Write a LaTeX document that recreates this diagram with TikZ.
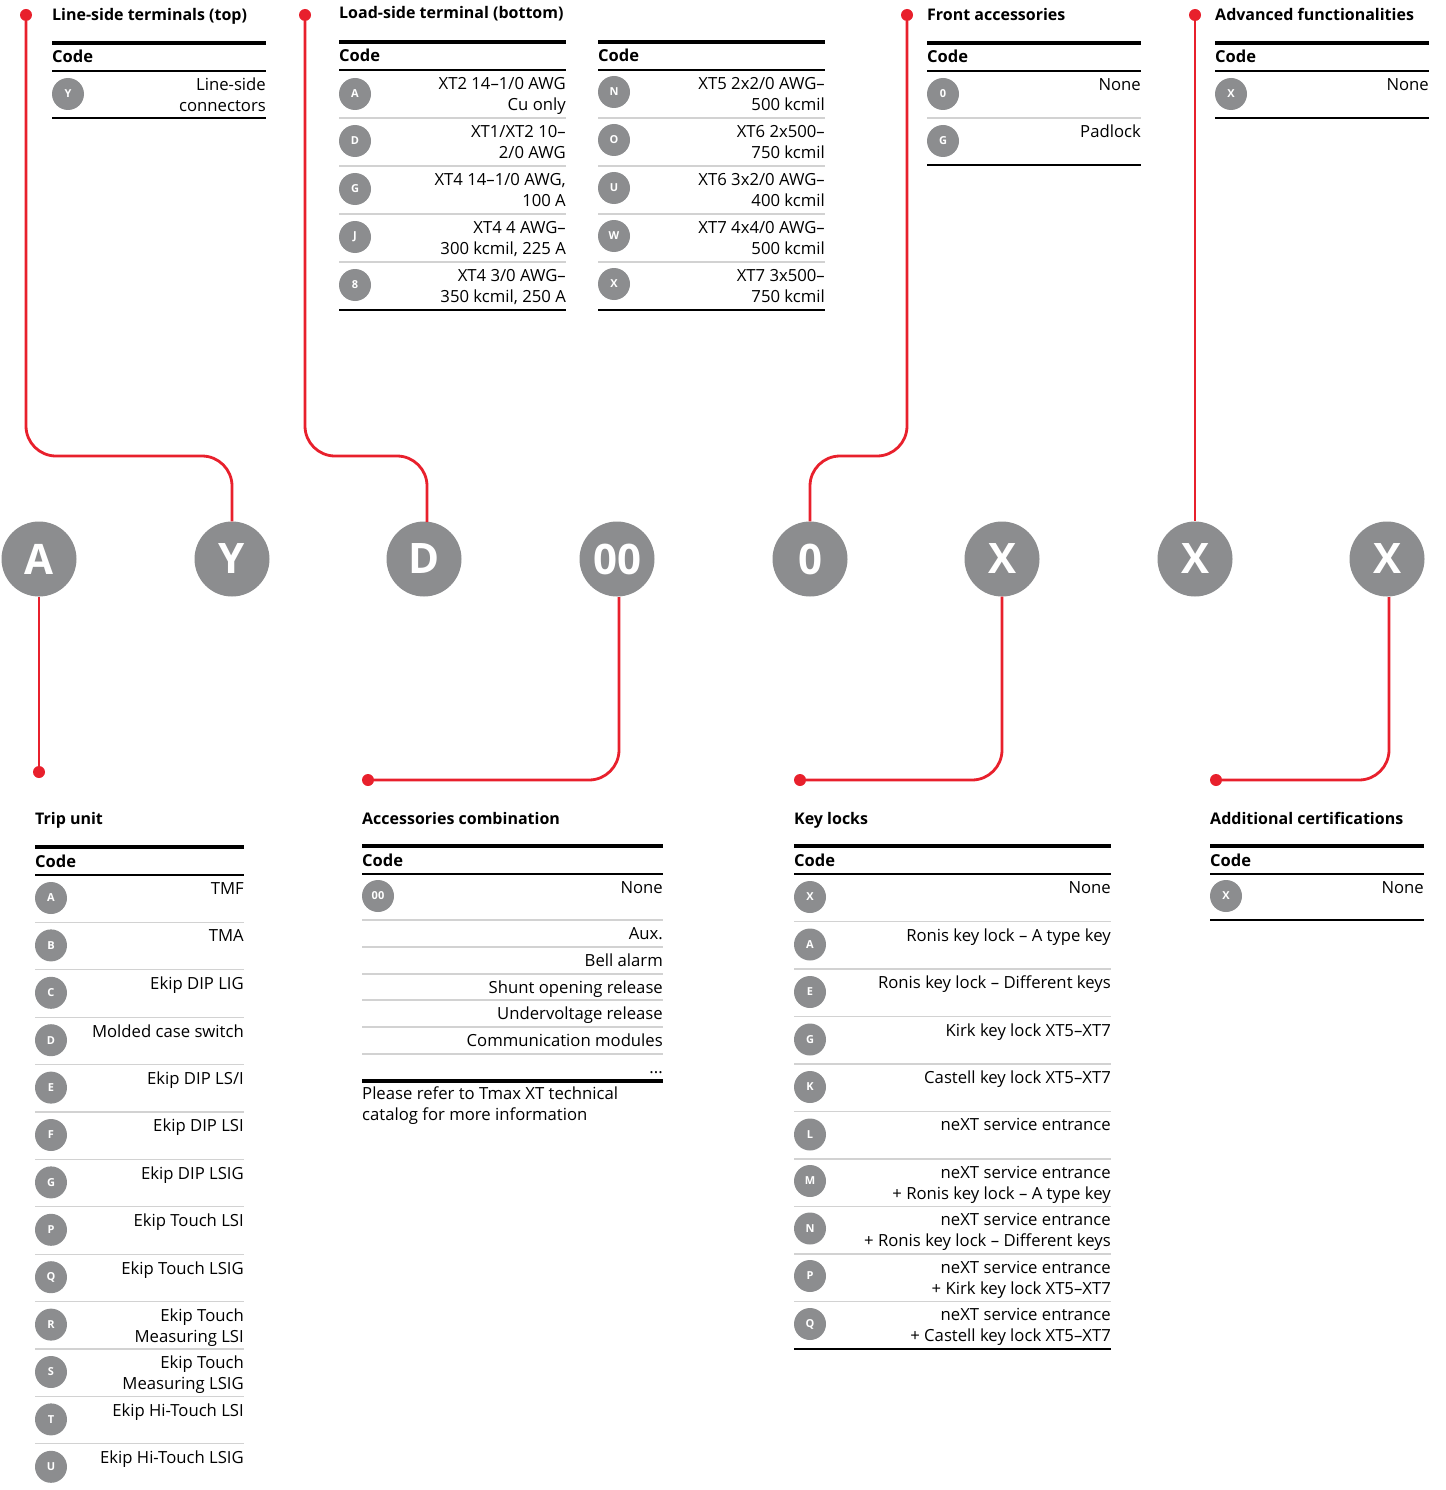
\documentclass[tikz,border=0pt]{standalone}
\usepackage{fontspec}
\setmainfont{Open Sans}
\usetikzlibrary{positioning}
\definecolor{abbred}{HTML}{E8202C}
\definecolor{abbgrey}{HTML}{8C8D8F}
\definecolor{rulegrey}{HTML}{D2D2D2}
\newcommand{\celltxt}{\fontsize{16.7}{21}\selectfont}
\begin{document}
\begin{tikzpicture}[x=1pt,y=-1pt]
    \tikzstyle{every node}=[inner sep=0pt]
    \tikzstyle{bigball}=[circle,fill=abbgrey,minimum size=75pt,text=white,font=\bfseries\fontsize{42}{42}\selectfont]
    \tikzstyle{ball}=[circle,fill=abbgrey,minimum size=32pt,text=white,font=\bfseries\fontsize{11}{11}\selectfont]
    \tikzstyle{dot}=[circle,fill=abbred,minimum size=12pt]
    \tikzstyle{wire}=[draw=abbred,line width=2.8pt,rounded corners=30pt]
    \tikzstyle{title}=[anchor=base west,font=\bfseries\fontsize{16}{18}\selectfont]
    \tikzstyle{code}=[anchor=base west,font=\bfseries\fontsize{16.5}{18}\selectfont]
    \tikzstyle{cell}=[anchor=north east,align=right,font=\celltxt]
    \tikzstyle{toprule}=[line width=4.5pt]
    \tikzstyle{midrule}=[line width=2.4pt]
    \tikzstyle{sep}=[draw=rulegrey,line width=1.3pt]
    \useasboundingbox (0,0) rectangle (1445,1490);

    % code letters
    \node[bigball] (cA) at (39,559) {A};
    \node[bigball] (cY) at (232,559) {Y};
    \node[bigball] (cD) at (424,559) {D};
    \node[bigball] (c00) at (617,559) {00};
    \node[bigball] (cO) at (810,559) {0};
    \node[bigball] (cX1) at (1002,559) {X};
    \node[bigball] (cX2) at (1195,559) {X};
    \node[bigball] (cX3) at (1387,559) {X};

    % red leaders
    \node[dot] (dLine) at (26,15) {};
    \node[dot] (dLoad) at (305,15) {};
    \node[dot] (dFront) at (907,15) {};
    \node[dot] (dAdv) at (1195,15) {};
    \node[dot] (dTrip) at (39,772) {};
    \node[dot] (dAcc) at (368,780) {};
    \node[dot] (dKey) at (800,780) {};
    \node[dot] (dCert) at (1216,780) {};
    \draw[wire] (dLine) -- (dLine |- 0,456) -- (cY.north |- 0,456) -- (cY.north);
    \draw[wire] (dLoad) -- (dLoad |- 0,456) -- (427,456) -- (427,522);
    \draw[wire] (dFront) -- (dFront |- 0,456) -- (cO.north |- 0,456) -- (cO.north);
    \draw[wire] (dAdv) -- (cX2.north);
    \draw[wire] (cA.south) -- (dTrip);
    \draw[wire] (619,597) -- (619,780) -- (dAcc);
    \draw[wire] (cX1.south) -- (cX1.south |- 0,780) -- (dKey);
    \draw[wire] (1389,597) -- (1389,780) -- (dCert);

    % line-side terminals
    \node[title] (lineTitle) at (52,21) {Line-side terminals (top)};
    \draw[toprule] (52,43) -- (266,43);
    \node[code] (lineCode) at (52,63) {Code};
    \draw[midrule] (52,71) -- (266,71);
    \node[ball] (lineY) at (68,94) {Y};
    \node[cell] (lineYtxt) at (266,78) {Line-side\\connectors};
    \draw[midrule] (52,118) -- (266,118);

    % load-side terminal
    \node[title] (loadTitle) at (339,19) {Load-side terminal (bottom)};
    \draw[toprule] (339,42) -- (566,42);
    \node[code] (loadCodeA) at (339,62) {Code};
    \draw[midrule] (339,70) -- (566,70);
    \node[ball] (loadA) at (355,94) {A};
    \node[cell] (loadAtxt) at (566,77) {XT2 14--1/0 AWG\\Cu only};
    \draw[sep] (339,118) -- (566,118);
    \node[ball] (loadD) at (355,141) {D};
    \node[cell] (loadDtxt) at (566,125) {XT1/XT2 10--\\2/0 AWG};
    \draw[sep] (339,166) -- (566,166);
    \node[ball] (loadG) at (355,189) {G};
    \node[cell] (loadGtxt) at (566,173) {XT4 14--1/0 AWG,\\100 A};
    \draw[sep] (339,214) -- (566,214);
    \node[ball] (loadJ) at (355,237) {J};
    \node[cell] (loadJtxt) at (566,221) {XT4 4 AWG--\\300 kcmil, 225 A};
    \draw[sep] (339,262) -- (566,262);
    \node[ball] (load8) at (355,285) {8};
    \node[cell] (load8txt) at (566,269) {XT4 3/0 AWG--\\350 kcmil, 250 A};
    \draw[midrule] (339,310) -- (566,310);

    \draw[toprule] (598,42) -- (825,42);
    \node[code] (loadCodeB) at (598,62) {Code};
    \draw[midrule] (598,70) -- (825,70);
    \node[ball] (loadN) at (614,92) {N};
    \node[cell] (loadNtxt) at (825,77) {XT5 2x2/0 AWG--\\500 kcmil};
    \draw[sep] (598,118) -- (825,118);
    \node[ball] (loadO) at (614,140) {O};
    \node[cell] (loadOtxt) at (825,125) {XT6 2x500--\\750 kcmil};
    \draw[sep] (598,166) -- (825,166);
    \node[ball] (loadU) at (614,188) {U};
    \node[cell] (loadUtxt) at (825,173) {XT6 3x2/0 AWG--\\400 kcmil};
    \draw[sep] (598,214) -- (825,214);
    \node[ball] (loadW) at (614,236) {W};
    \node[cell] (loadWtxt) at (825,221) {XT7 4x4/0 AWG--\\500 kcmil};
    \draw[sep] (598,262) -- (825,262);
    \node[ball] (loadX) at (614,284) {X};
    \node[cell] (loadXtxt) at (825,269) {XT7 3x500--\\750 kcmil};
    \draw[midrule] (598,310) -- (825,310);

    % front accessories
    \node[title] (frontTitle) at (927,21) {Front accessories};
    \draw[toprule] (927,43) -- (1141,43);
    \node[code] (frontCode) at (927,63) {Code};
    \draw[midrule] (927,71) -- (1141,71);
    \node[ball] (front0) at (943,94) {0};
    \node[cell] (front0txt) at (1141,78) {None};
    \draw[sep] (927,118) -- (1141,118);
    \node[ball] (frontG) at (943,141) {G};
    \node[cell] (frontGtxt) at (1141,125) {Padlock};
    \draw[midrule] (927,165) -- (1141,165);

    % advanced functionalities
    \node[title] (advTitle) at (1215,21) {Advanced functionalities};
    \draw[toprule] (1215,43) -- (1429,43);
    \node[code] (advCode) at (1215,63) {Code};
    \draw[midrule] (1215,71) -- (1429,71);
    \node[ball] (advX) at (1231,94) {X};
    \node[cell] (advXtxt) at (1429,78) {None};
    \draw[midrule] (1215,118) -- (1429,118);

    % trip unit
    \node[title] (tripTitle) at (35,824) {Trip unit};
    \draw[toprule] (35,847) -- (244,847);
    \node[code] (tripCode) at (35,867) {Code};
    \draw[midrule] (35,875) -- (244,875);
    \node[ball] (tripA) at (51,898) {A};
    \node[cell] (tripAtxt) at (244,882) {TMF};
    \draw[sep] (35,922.4) -- (244,922.4);
    \node[ball] (tripB) at (51,945.4) {B};
    \node[cell] (tripBtxt) at (244,929.4) {TMA};
    \draw[sep] (35,969.8) -- (244,969.8);
    \node[ball] (tripC) at (51,992.8) {C};
    \node[cell] (tripCtxt) at (244,976.8) {Ekip DIP LIG};
    \draw[sep] (35,1017.2) -- (244,1017.2);
    \node[ball] (tripD) at (51,1040.2) {D};
    \node[cell] (tripDtxt) at (244,1024.2) {Molded case switch};
    \draw[sep] (35,1064.6) -- (244,1064.6);
    \node[ball] (tripE) at (51,1087.6) {E};
    \node[cell] (tripEtxt) at (244,1071.6) {Ekip DIP LS/I};
    \draw[sep] (35,1112) -- (244,1112);
    \node[ball] (tripF) at (51,1135) {F};
    \node[cell] (tripFtxt) at (244,1119) {Ekip DIP LSI};
    \draw[sep] (35,1159.4) -- (244,1159.4);
    \node[ball] (tripG) at (51,1182.4) {G};
    \node[cell] (tripGtxt) at (244,1166.4) {Ekip DIP LSIG};
    \draw[sep] (35,1206.8) -- (244,1206.8);
    \node[ball] (tripP) at (51,1229.8) {P};
    \node[cell] (tripPtxt) at (244,1213.8) {Ekip Touch LSI};
    \draw[sep] (35,1254.2) -- (244,1254.2);
    \node[ball] (tripQ) at (51,1277.2) {Q};
    \node[cell] (tripQtxt) at (244,1261.2) {Ekip Touch LSIG};
    \draw[sep] (35,1301.6) -- (244,1301.6);
    \node[ball] (tripR) at (51,1324.6) {R};
    \node[cell] (tripRtxt) at (244,1308.6) {Ekip Touch\\Measuring LSI};
    \draw[sep] (35,1349) -- (244,1349);
    \node[ball] (tripS) at (51,1372) {S};
    \node[cell] (tripStxt) at (244,1356) {Ekip Touch\\Measuring LSIG};
    \draw[sep] (35,1396.4) -- (244,1396.4);
    \node[ball] (tripT) at (51,1419.4) {T};
    \node[cell] (tripTtxt) at (244,1403.4) {Ekip Hi-Touch LSI};
    \draw[sep] (35,1443.8) -- (244,1443.8);
    \node[ball] (tripU) at (51,1466.8) {U};
    \node[cell] (tripUtxt) at (244,1450.8) {Ekip Hi-Touch LSIG};

    % accessories combination
    \node[title] (accTitle) at (362,824) {Accessories combination};
    \draw[toprule] (362,846) -- (663,846);
    \node[code] (accCode) at (362,866) {Code};
    \draw[midrule] (362,874) -- (663,874);
    \node[ball] (acc00) at (378,896) {00};
    \node[cell] (acc00txt) at (663,881) {None};
    \draw[sep] (362,920) -- (663,920);
    \node[cell] (accAux) at (663,927.5) {Aux.};
    \draw[sep] (362,947) -- (663,947);
    \node[cell] (accBell) at (663,953.5) {Bell alarm};
    \draw[sep] (362,974) -- (663,974);
    \node[cell] (accShunt) at (663,980.5) {Shunt opening release};
    \draw[sep] (362,1000) -- (663,1000);
    \node[cell] (accUnder) at (663,1006.5) {Undervoltage release};
    \draw[sep] (362,1027) -- (663,1027);
    \node[cell] (accComm) at (663,1033.5) {Communication modules};
    \draw[sep] (362,1054) -- (663,1054);
    \node[cell,anchor=base east] (accMore) at (663,1073) {...};
    \draw[line width=3.2pt] (362,1081) -- (663,1081);
    \node[anchor=north west,align=left,font=\celltxt] (accNote) at (362,1086.5) {Please refer to Tmax XT technical\\catalog for more information};

    % key locks
    \node[title] (keyTitle) at (794,824) {Key locks};
    \draw[toprule] (794,846) -- (1111,846);
    \node[code] (keyCode) at (794,866) {Code};
    \draw[midrule] (794,874) -- (1111,874);
    \node[ball] (keyX) at (810,897) {X};
    \node[cell] (keyXtxt) at (1111,881) {None};
    \draw[sep] (794,921.5) -- (1111,921.5);
    \node[ball] (keyA) at (810,944.5) {A};
    \node[cell] (keyAtxt) at (1111,928.5) {Ronis key lock -- A type key};
    \draw[sep] (794,969) -- (1111,969);
    \node[ball] (keyE) at (810,992) {E};
    \node[cell] (keyEtxt) at (1111,976) {Ronis key lock -- Different keys};
    \draw[sep] (794,1016.5) -- (1111,1016.5);
    \node[ball] (keyG) at (810,1039.5) {G};
    \node[cell] (keyGtxt) at (1111,1023.5) {Kirk key lock XT5--XT7};
    \draw[sep] (794,1064) -- (1111,1064);
    \node[ball] (keyK) at (810,1087) {K};
    \node[cell] (keyKtxt) at (1111,1071) {Castell key lock XT5--XT7};
    \draw[sep] (794,1111.5) -- (1111,1111.5);
    \node[ball] (keyL) at (810,1134.5) {L};
    \node[cell] (keyLtxt) at (1111,1118.5) {neXT service entrance};
    \draw[sep] (794,1159) -- (1111,1159);
    \node[ball] (keyM) at (810,1181) {M};
    \node[cell] (keyMtxt) at (1111,1166) {neXT service entrance\\+ Ronis key lock -- A type key};
    \draw[sep] (794,1206.5) -- (1111,1206.5);
    \node[ball] (keyN) at (810,1228.5) {N};
    \node[cell] (keyNtxt) at (1111,1213.5) {neXT service entrance\\+ Ronis key lock -- Different keys};
    \draw[sep] (794,1254) -- (1111,1254);
    \node[ball] (keyP) at (810,1276) {P};
    \node[cell] (keyPtxt) at (1111,1261) {neXT service entrance\\+ Kirk key lock XT5--XT7};
    \draw[sep] (794,1301.5) -- (1111,1301.5);
    \node[ball] (keyQ) at (810,1324) {Q};
    \node[cell] (keyQtxt) at (1111,1308.5) {neXT service entrance\\+ Castell key lock XT5--XT7};
    \draw[midrule] (794,1349) -- (1111,1349);

    % additional certifications
    \node[title] (certTitle) at (1210,824) {Additional certifications};
    \draw[toprule] (1210,846) -- (1424,846);
    \node[code] (certCode) at (1210,866) {Code};
    \draw[midrule] (1210,874) -- (1424,874);
    \node[ball] (certX) at (1226,896) {X};
    \node[cell] (certXtxt) at (1424,881) {None};
    \draw[midrule] (1210,920) -- (1424,920);
\end{tikzpicture}
\end{document}
